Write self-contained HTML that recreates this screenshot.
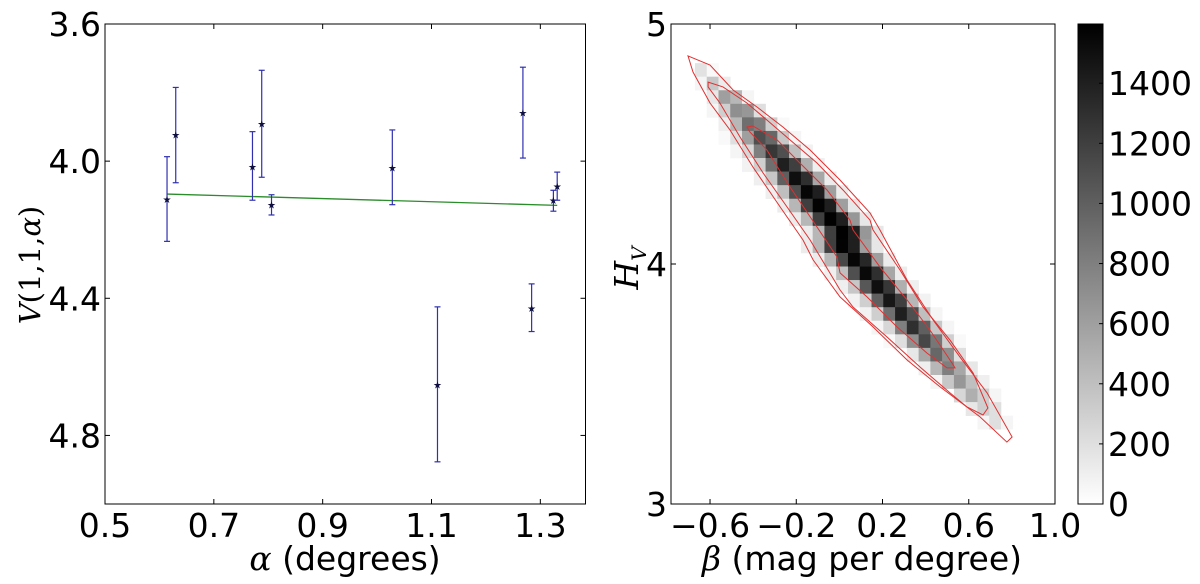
<!DOCTYPE html>
<html><head><meta charset="utf-8">
<style>
html,body{margin:0;padding:0;background:#fff;}
svg{display:block;font-family:"DejaVu Sans","Liberation Sans",sans-serif;}
</style></head>
<body>
<svg id="fig" width="1200" height="584" viewBox="0 0 1200 584" xmlns="http://www.w3.org/2000/svg"></svg>
<script>
// ---------- Left panel data ----------
const alphaVals = [0.614, 0.630, 0.771, 0.788, 0.806, 1.028, 1.111, 1.268, 1.284, 1.324, 1.331];
const vVals     = [4.110, 3.923, 4.015, 3.890, 4.126, 4.019, 4.652, 3.858, 4.428, 4.114, 4.073];
const vErrLo    = [4.234, 4.063, 4.114, 4.047, 4.157, 4.127, 4.877, 3.991, 4.497, 4.146, 4.114];
const vErrHi    = [3.987, 3.785, 3.914, 3.735, 4.098, 3.909, 4.425, 3.726, 4.358, 4.085, 4.032];
const fitX = [0.614, 1.331];
const fitY = [4.096, 4.129];
const leftXTicks = [0.5, 0.7, 0.9, 1.1, 1.3];
const leftXTickLabels = ["0.5", "0.7", "0.9", "1.1", "1.3"];
const leftYTicks = [3.6, 4.0, 4.4, 4.8];
const leftYTickLabels = ["3.6", "4.0", "4.4", "4.8"];

// ---------- Right panel data (2D histogram) ----------
const histX0 = -0.670, histDX = 0.0546, histY0 = 4.837, histDY = 0.0565;
const histRowCenter = [0,1,2,3,4,5,6,7,8,9,10,11,12,12,13,14,15,16,17,18,19,20,21,22,23,24,25];
const histRows = [
 [0,0,0,180,40,0,0],
 [0,0,60,350,120,0,0],
 [0,0,150,600,450,60,0],
 [0,60,300,700,650,200,0],
 [0,100,450,900,800,300,40],
 [40,200,600,1100,950,350,60],
 [60,250,800,1250,1100,400,80],
 [80,300,900,1400,1200,500,100],
 [100,350,1000,1500,1300,550,120],
 [100,400,1100,1560,1400,600,120],
 [120,450,1200,1580,1400,600,150],
 [120,450,1200,1590,1400,650,150],
 [120,450,1200,1590,1400,650,150],
 [120,450,1200,1580,1400,600,150],
 [120,450,1150,1560,1350,600,120],
 [100,400,1100,1540,1300,550,120],
 [100,350,1050,1500,1250,500,100],
 [80,300,1000,1450,1200,450,80],
 [80,300,900,1400,1100,400,60],
 [60,250,800,1300,1000,350,60],
 [40,200,700,1150,850,300,40],
 [0,150,550,950,700,200,0],
 [0,100,450,800,550,150,0],
 [0,60,350,650,400,100,0],
 [0,0,250,500,300,60,0],
 [0,0,150,300,200,0,0],
 [0,0,60,200,60,0,0]
];
const contourOuter = [[-0.702,4.867],[-0.600,4.829],[-0.493,4.725],[-0.382,4.654],[-0.262,4.571],[-0.136,4.475],[0.003,4.350],[0.142,4.213],[0.188,4.142],[0.314,3.933],[0.434,3.767],[0.559,3.613],[0.685,3.463],[0.801,3.279],[0.777,3.258],[0.652,3.363],[0.467,3.488],[0.314,3.600],[0.156,3.738],[0.003,3.863],[-0.122,4.017],[-0.169,4.100],[-0.275,4.238],[-0.401,4.404],[-0.507,4.558],[-0.600,4.671],[-0.679,4.800]];
const contourMiddle = [[-0.609,4.758],[-0.540,4.738],[-0.429,4.671],[-0.336,4.600],[-0.229,4.517],[-0.104,4.421],[0.017,4.308],[0.142,4.183],[0.156,4.142],[0.281,3.975],[0.388,3.821],[0.513,3.683],[0.620,3.546],[0.689,3.400],[0.666,3.371],[0.592,3.404],[0.513,3.463],[0.374,3.571],[0.221,3.696],[0.063,3.821],[0.003,3.892],[-0.136,4.100],[-0.243,4.238],[-0.354,4.379],[-0.461,4.529],[-0.554,4.671],[-0.609,4.738]];
const contourInner = [[-0.429,4.571],[-0.401,4.575],[-0.289,4.517],[-0.183,4.421],[-0.057,4.308],[0.049,4.183],[0.063,4.142],[0.188,3.988],[0.314,3.850],[0.420,3.725],[0.522,3.588],[0.536,3.567],[0.499,3.567],[0.406,3.629],[0.267,3.738],[0.128,3.863],[0.003,3.963],[-0.011,4.029],[-0.104,4.154],[-0.229,4.321],[-0.336,4.475],[-0.415,4.550]];
const rightXTicks = [-0.6, -0.2, 0.2, 0.6, 1.0];
const rightXTickLabels = ["\u22120.6", "\u22120.2", "0.2", "0.6", "1.0"];
const rightYTicks = [3, 4, 5];
const rightYTickLabels = ["3", "4", "5"];
const cbarMax = 1597;
const cbarTicks = [0, 200, 400, 600, 800, 1000, 1200, 1400];
const cbarTickLabels = ["0","200","400","600","800","1000","1200","1400"];

// ---------- helpers ----------
const NS = "http://www.w3.org/2000/svg";
const svg = document.getElementById("fig");
function mk(tag, attrs, parent) {
  const e = document.createElementNS(NS, tag);
  for (const k in attrs) e.setAttribute(k, attrs[k]);
  (parent || svg).appendChild(e);
  return e;
}
const FS = 33;

// ---------- Left axes ----------
const L = {x0:105, x1:585.5, y0:24, y1:504, xmin:0.5, xmax:1.383, ymin:3.6, ymax:5.0};
const lx = v => L.x0 + (v - L.xmin) / (L.xmax - L.xmin) * (L.x1 - L.x0);
const ly = v => L.y0 + (v - L.ymin) / (L.ymax - L.ymin) * (L.y1 - L.y0);

const gL = mk("g", {});



const fit = mk("line", {x1:lx(fitX[0]), y1:ly(fitY[0]), x2:lx(fitX[1]), y2:ly(fitY[1]), stroke:"#2a8c2a", "stroke-width":1.3}, gL);



for (let i = 0; i < alphaVals.length; i++) {
  const x = lx(alphaVals[i]);
  const g = mk("g", {}, gL);
  
  
  mk("line", {x1:x, y1:ly(vErrHi[i]), x2:x, y2:ly(vErrLo[i]), stroke:"#3030b0", "stroke-width":1.2}, g);
  mk("line", {x1:x-3, y1:ly(vErrHi[i]), x2:x+3, y2:ly(vErrHi[i]), stroke:"#3030b0", "stroke-width":1.2}, g);
  mk("line", {x1:x-3, y1:ly(vErrLo[i]), x2:x+3, y2:ly(vErrLo[i]), stroke:"#3030b0", "stroke-width":1.2}, g);
  const y = ly(vVals[i]);
  mk("text", {x:x, y:y+4, "text-anchor":"middle", "font-size":10, fill:"#101040"}, g).textContent = "\u2605";
}

const fL = mk("rect", {x:L.x0, y:L.y0, width:L.x1-L.x0, height:L.y1-L.y0, fill:"none", stroke:"#000", "stroke-width":1}, gL);



leftXTicks.forEach((t, i) => {
  const x = lx(t);
  mk("line", {x1:x, y1:L.y1, x2:x, y2:L.y1-5, stroke:"#000"}, gL);
  mk("line", {x1:x, y1:L.y0, x2:x, y2:L.y0+5, stroke:"#000"}, gL);
  const tx = mk("text", {x:x, y:L.y1+33, "text-anchor":"middle", "font-size":FS}, gL);
  tx.textContent = leftXTickLabels[i];
  
  
});
leftYTicks.forEach((t, i) => {
  const y = ly(t);
  mk("line", {x1:L.x0, y1:y, x2:L.x0+5, y2:y, stroke:"#000"}, gL);
  mk("line", {x1:L.x1, y1:y, x2:L.x1-5, y2:y, stroke:"#000"}, gL);
  const tx = mk("text", {x:L.x0-4, y:y+12, "text-anchor":"end", "font-size":FS}, gL);
  tx.textContent = leftYTickLabels[i];
  
  
});
const lxl = mk("text", {x:345, y:570, "text-anchor":"middle", "font-size":FS}, gL);
lxl.innerHTML = '<tspan font-family="DejaVu Serif, serif" font-style="italic">α</tspan> (degrees)';


const lyl = mk("text", {x:0, y:0, "text-anchor":"middle", "font-size":29, "font-family":"DejaVu Serif, serif", transform:"translate(40,265) rotate(-90)"}, gL);
lyl.innerHTML = '<tspan font-style="italic">V</tspan>(1,1,<tspan font-style="italic">α</tspan>)';



// ---------- Right axes ----------
const R = {x0:671, x1:1055, y0:24, y1:504, xmin:-0.781, xmax:1.0, ymin:3, ymax:5};
const rx = v => R.x0 + (v - R.xmin) / (R.xmax - R.xmin) * (R.x1 - R.x0);
const ry = v => R.y0 + (R.ymax - v) / (R.ymax - R.ymin) * (R.y1 - R.y0);
const gray = v => { const g = Math.round(255 * (1 - Math.min(v, cbarMax) / cbarMax)); return `rgb(${g},${g},${g})`; };

const gR = mk("g", {});



histRows.forEach((row, r) => {
  row.forEach((v, k) => {
    const c = histRowCenter[r] - 3 + k;
    if (v < 20 || c < 0) return;
    const xa = histX0 + c * histDX, ya = histY0 - r * histDY;
    const cell = mk("rect", {x:rx(xa), y:ry(ya), width:rx(xa+histDX)-rx(xa)+0.3, height:ry(ya-histDY)-ry(ya)+0.3, fill:gray(v)}, gR);
    
    
  });
});
[[contourOuter,'contour-outer'],[contourMiddle,'contour-middle'],[contourInner,'contour-inner']].forEach(([pts, nm]) => {
  const p = mk("polygon", {points: pts.map(q => rx(q[0]).toFixed(1) + "," + ry(q[1]).toFixed(1)).join(" "), fill:"none", stroke:"#e03030", "stroke-width":1}, gR);
  
  
});
const fR = mk("rect", {x:R.x0, y:R.y0, width:R.x1-R.x0, height:R.y1-R.y0, fill:"none", stroke:"#000", "stroke-width":1}, gR);


rightXTicks.forEach((t, i) => {
  const x = rx(t);
  mk("line", {x1:x, y1:R.y1, x2:x, y2:R.y1-5, stroke:"#000"}, gR);
  mk("line", {x1:x, y1:R.y0, x2:x, y2:R.y0+5, stroke:"#000"}, gR);
  const tx = mk("text", {x:x, y:R.y1+33, "text-anchor":"middle", "font-size":FS}, gR);
  tx.textContent = rightXTickLabels[i];
  
  
});
rightYTicks.forEach((t, i) => {
  const y = ry(t);
  mk("line", {x1:R.x0, y1:y, x2:R.x0+5, y2:y, stroke:"#000"}, gR);
  mk("line", {x1:R.x1, y1:y, x2:R.x1-5, y2:y, stroke:"#000"}, gR);
  const tx = mk("text", {x:R.x0-4, y:y+12, "text-anchor":"end", "font-size":FS}, gR);
  tx.textContent = rightYTickLabels[i];
  
  
});
const rxl = mk("text", {x:862, y:570, "text-anchor":"middle", "font-size":FS}, gR);
rxl.innerHTML = '<tspan font-family="DejaVu Serif, serif" font-style="italic">β</tspan> (mag per degree)';


const ryl = mk("text", {x:0, y:0, "text-anchor":"middle", "font-size":33, "font-family":"DejaVu Serif, serif", "font-style":"italic", transform:"translate(638,268) rotate(-90)"}, gR);
ryl.innerHTML = 'H<tspan font-size="20" dy="8">V</tspan>';



// ---------- Colorbar ----------
const C = {x0:1078, x1:1103, y0:24, y1:504};
const cy = v => C.y1 - v / cbarMax * (C.y1 - C.y0);
const gC = mk("g", {});


const defs = mk("defs", {});
const lg = mk("linearGradient", {id:"cbg", x1:0, y1:1, x2:0, y2:0}, defs);
mk("stop", {offset:"0", "stop-color":"#fff"}, lg);
mk("stop", {offset:"1", "stop-color":"#000"}, lg);
mk("rect", {x:C.x0, y:C.y0, width:C.x1-C.x0, height:C.y1-C.y0, fill:"url(#cbg)", stroke:"#000", "stroke-width":1}, gC);
cbarTicks.forEach((t, i) => {
  const y = cy(t);
  mk("line", {x1:C.x1, y1:y, x2:C.x1-4, y2:y, stroke:"#000"}, gC);
  const tx = mk("text", {x:C.x1+5, y:y+12, "text-anchor":"start", "font-size":FS}, gC);
  tx.textContent = cbarTickLabels[i];
  
  
});
</script>
</body></html>
